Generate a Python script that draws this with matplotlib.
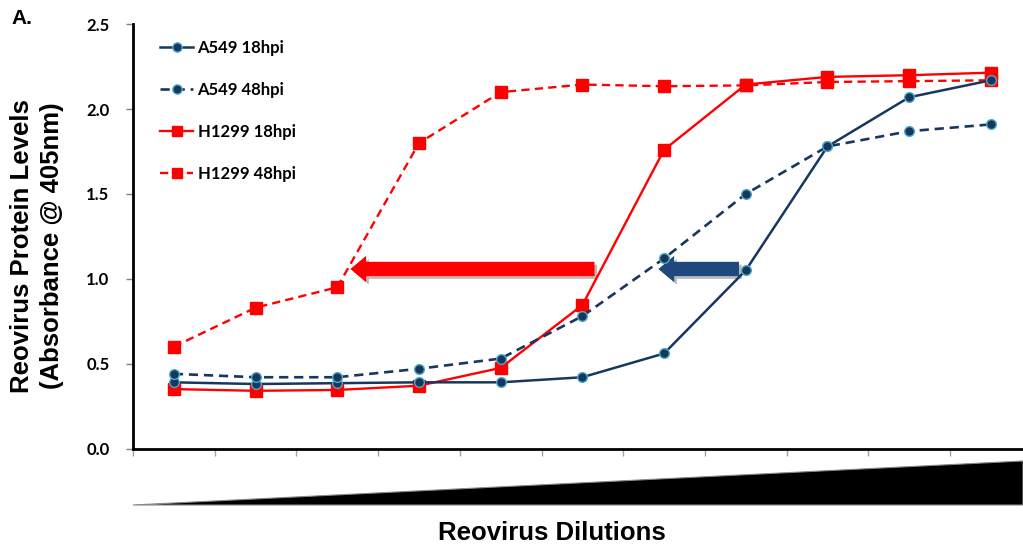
import matplotlib
matplotlib.use("Agg")
import matplotlib.pyplot as plt
from matplotlib.patches import Polygon, FancyArrowPatch
import matplotlib.patheffects as pe

# ---- data ----
dilutions = list(range(1, 12))
a549_18 = [0.39, 0.38, 0.385, 0.39, 0.39, 0.42, 0.56, 1.05, 1.78, 2.07, 2.17]
a549_48 = [0.44, 0.42, 0.42, 0.47, 0.53, 0.78, 1.12, 1.50, 1.78, 1.87, 1.91]
h1299_18 = [0.35, 0.34, 0.345, 0.37, 0.475, 0.845, 1.76, 2.145, 2.19, 2.20, 2.215]
h1299_48 = [0.60, 0.83, 0.95, 1.80, 2.10, 2.145, 2.135, 2.14, 2.16, 2.165, 2.17]
labels = ["A549 18hpi", "A549 48hpi", "H1299 18hpi", "H1299 48hpi"]
yticks = [0.0, 0.5, 1.0, 1.5, 2.0, 2.5]
ytick_labels = ["0.0", "0.5", "1.0", "1.5", "2.0", "2.5"]
red_arrow = (6.18, 3.13, 1.058)   # tail x, tip x, y
blue_arrow = (7.95, 6.90, 1.058)

NAVY = "#17375E"
EDGE = "#4BACC6"
RED = "#FF0000"
ARROW_BLUE = "#1F497D"

W, H = 1023, 548
fig = plt.figure(figsize=(W / 100, H / 100), dpi=100)
ax_left, ax_bottom, ax_top = 133 / W, 1 - 448.5 / H, 1 - 24.3 / H
ax = fig.add_axes([ax_left, ax_bottom, 1.0 - ax_left, ax_top - ax_bottom])

ax.plot(dilutions, a549_18, color=NAVY, lw=1.8, marker="o", ms=7, mfc=NAVY,
        mec=EDGE, mew=1.0, label=labels[0], zorder=4)
ax.plot(dilutions, a549_48, color=NAVY, lw=1.9, ls=(0, (3.5, 2.2)), marker="o", ms=7,
        mfc=NAVY, mec=EDGE, mew=1.0, label=labels[1], zorder=4)
ax.plot(dilutions, h1299_18, color=RED, lw=1.7, marker="s", ms=8, mfc=RED,
        mec=RED, label=labels[2], zorder=3)
ax.plot(dilutions, h1299_48, color=RED, lw=1.7, ls=(0, (3.5, 2.2)), marker="s", ms=8,
        mfc=RED, mec=RED, label=labels[3], zorder=3)

# arrows
for (x0, x1, yy), col in [(red_arrow, RED), (blue_arrow, ARROW_BLUE)]:
    arr = FancyArrowPatch((x0, yy), (x1, yy),
                          arrowstyle="simple,head_length=0.6,head_width=1.0,tail_width=0.55",
                          mutation_scale=18.5, color=col, lw=0, zorder=2)
    arr.set_path_effects([pe.withSimplePatchShadow(offset=(2, -2), alpha=0.3), pe.Normal()])
    ax.add_patch(arr)

ax.set_xlim(0.5, 0.5 + (W - 133) / 81.7)
ax.set_ylim(0, 2.5)
ax.set_yticks(yticks)
ax.set_yticklabels(ytick_labels, fontfamily="Lato", fontweight="bold", fontsize=12)
ax.set_xticks([i + 0.5 for i in range(0, 11)])
ax.set_xticklabels([])
ax.tick_params(axis="x", length=5, width=1, color="#A0A0A0", direction="out")
ax.tick_params(axis="y", length=5, width=1, color="#808080", direction="out", pad=12)
for s in ["top", "right"]:
    ax.spines[s].set_visible(False)
for s in ["left", "bottom"]:
    ax.spines[s].set_linewidth(2.0)
    ax.spines[s].set_color("black")
ax.patch.set_alpha(0)

leg = ax.legend(loc="upper left", bbox_to_anchor=(160 / W, 1 - 40 / H),
                bbox_transform=fig.transFigure, frameon=False, borderpad=0,
                borderaxespad=0, handlelength=2.0, handletextpad=0.25,
                labelspacing=1.55, prop={"family": "Lato", "weight": "bold", "size": 12},
                markerscale=0.95)

# wedge for dilutions
wedge = Polygon([[133 / W, 1 - 505 / H], [1.0, 1 - 461 / H], [1.0, 1 - 505 / H]],
                closed=True, transform=fig.transFigure, facecolor="black",
                edgecolor="#888888", lw=0.8)
fig.add_artist(wedge)

fig.text(552 / W, 1 - 533 / H, "Reovirus Dilutions", ha="center", va="center",
         fontfamily="Liberation Sans", fontweight="bold", fontsize=18.5)
fig.text(37 / W, 1 - 246 / H, "Reovirus Protein Levels\n(Absorbance @ 405nm)",
         ha="center", va="center", rotation=90, linespacing=1.28,
         fontfamily="Liberation Sans", fontweight="bold", fontsize=18.5)
fig.text(11 / W, 1 - 19 / H, "A.", ha="left", va="center",
         fontfamily="Liberation Sans", fontweight="bold", fontsize=15)

fig.savefig("out.png", dpi=100)
